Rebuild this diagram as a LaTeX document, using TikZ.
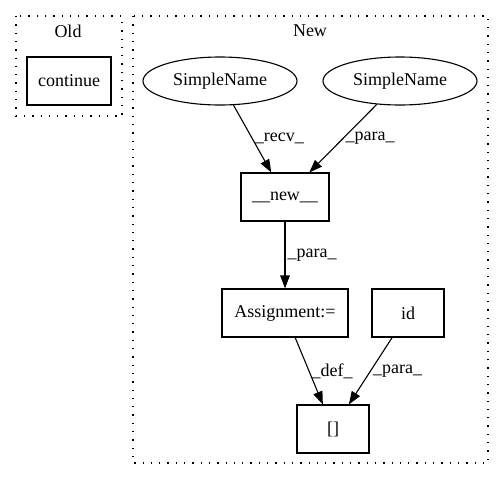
\documentclass[tikz,border=0pt]{standalone}
\usepackage{fontspec}
\setmainfont{Liberation Serif}
\usetikzlibrary{arrows.meta,shapes.geometric}

\begin{document}
\begin{tikzpicture}[x=1pt,y=1pt,line width=1.1pt,
  every node/.style={font=\fontsize{18}{21}\selectfont},
  box/.style={draw,rectangle,minimum height=48,inner sep=0pt},
  oval/.style={draw,ellipse,minimum width=154,minimum height=48,inner sep=0pt},
  flow/.style={-{Triangle[length=13,width=9.5]}},
  lbl/.style={right,inner sep=2pt},
  cluster/.style={draw,line width=1.3pt,dash pattern=on 1.3pt off 7pt}]
\useasboundingbox (0,0) rectangle (504,-480);
% clusters
\draw [cluster] (16,-16) rectangle (122,-116);
\node (oldlabel) at (68,-31) {Old};
\draw [cluster] (133,-16) rectangle (488,-463);
\node (newlabel) at (310,-31) {New};
% nodes
\node [box,minimum width=84] (cont) at (69,-81) {continue};
\node [oval] (sn1) at (220,-81) {SimpleName};
\node [oval] (sn2) at (400,-81) {SimpleName};
\node [box,minimum width=88] (new) at (285,-197) {\_\_new\_\_};
\node [box,minimum width=126] (assign) at (285,-313) {Assignment:=};
\node [box,minimum width=72] (id) at (408,-313) {id};
\node [box,minimum width=72] (sub) at (333,-429) {[]};
% edges
\draw [flow] (sn1) -- node [lbl] {\_recv\_} (new);
\draw [flow] (sn2) -- node [lbl] {\_para\_} (new);
\draw [flow] (new) -- node [lbl] {\_para\_} (assign);
\draw [flow] (assign) -- node [lbl] {\_def\_} (sub);
\draw [flow] (id) -- node [lbl] {\_para\_} (sub);
\end{tikzpicture}
\end{document}
